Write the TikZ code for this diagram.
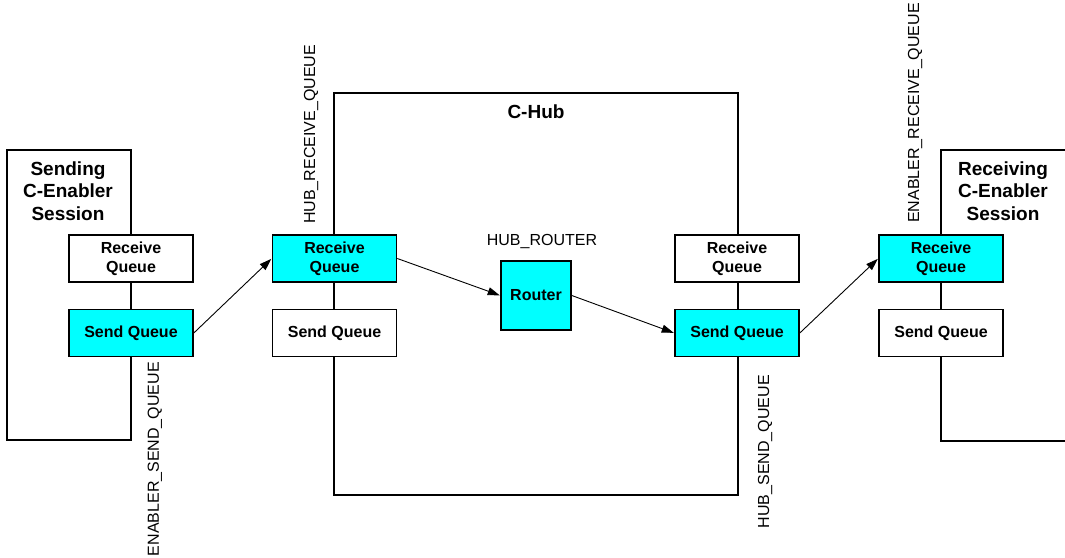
\documentclass[tikz,border=0pt]{standalone}
\usepackage{fontspec}
\setmainfont{Liberation Sans}
\usetikzlibrary{arrows.meta}
\definecolor{qcyan}{HTML}{00FFFF}
\tikzset{
  frame/.style={draw=black, line width=1.6pt, fill=none},
  queue/.style={draw=black, line width=1.6pt, fill=white, minimum width=124pt,
    minimum height=47pt, inner sep=0pt, align=center,
    font=\fontsize{16}{18.7}\selectfont\bfseries},
  active/.style={queue, fill=qcyan},
  title/.style={inner sep=0pt, align=center, font=\fontsize{19}{22.5}\selectfont\bfseries},
  tag/.style={inner sep=0pt, font=\fontsize{16}{19}\selectfont},
  flow/.style={line width=0.9pt, -{Triangle[length=12pt,width=8pt]}, shorten >=0.5pt}
}
\begin{document}
\begin{tikzpicture}[x=1pt, y=-1pt]
  \useasboundingbox (0,0) rectangle (1065,557);

  % outer containers
  \node[frame, minimum width=124pt, minimum height=290pt, inner sep=0pt] (sender) at (69,295) {};
  \node[frame, minimum width=404pt, minimum height=402pt, inner sep=0pt] (hub) at (536,294) {};
  \draw[line width=1.6pt] (1070,150) -- (941,150) -- (941,441) -- (1070,441);

  % container titles
  \node[title] (sendertitle) at (68,191) {Sending\\C-Enabler\\Session};
  \node[title] (hubtitle) at (536,112) {C-Hub};
  \node[title] (recvtitle) at (1003,191) {Receiving\\C-Enabler\\Session};

  % queues of the sending session
  \node[queue]  (srq) at (131,258.5) {Receive\\Queue};
  \node[active] (ssq) at (131,333) {Send Queue};

  % hub queues and router
  \node[active] (hrq) at (334.5,258.5) {Receive\\Queue};
  \node[queue]  (hsq0) at (334.5,333) {Send Queue};
  \node[active, minimum width=70pt, minimum height=69pt] (router) at (536,295.5) {Router};
  \node[queue]  (hrq0) at (737,258.5) {Receive\\Queue};
  \node[active] (hsq) at (737,333) {Send Queue};

  % queues of the receiving session
  \node[active] (rrq) at (941,258.5) {Receive\\Queue};
  \node[queue]  (rsq) at (941,333) {Send Queue};

  % queue names
  \node[tag, rotate=90, anchor=east] (l1) at (155,362) {ENABLER\_SEND\_QUEUE};
  \node[tag, rotate=90, anchor=west] (l2) at (311,224) {HUB\_RECEIVE\_QUEUE};
  \node[tag] (l3) at (542,241) {HUB\_ROUTER};
  \node[tag, rotate=90, anchor=east] (l4) at (765,375) {HUB\_SEND\_QUEUE};
  \node[tag, rotate=90, anchor=west] (l5) at (915,223) {ENABLER\_RECEIVE\_QUEUE};

  % message flow
  \draw[flow] (ssq.east) -- (hrq.west);
  \draw[flow] (hrq.east) -- (router.west);
  \draw[flow] (router.east) -- (hsq.west);
  \draw[flow] (hsq.east) -- (rrq.west);
\end{tikzpicture}
\end{document}
